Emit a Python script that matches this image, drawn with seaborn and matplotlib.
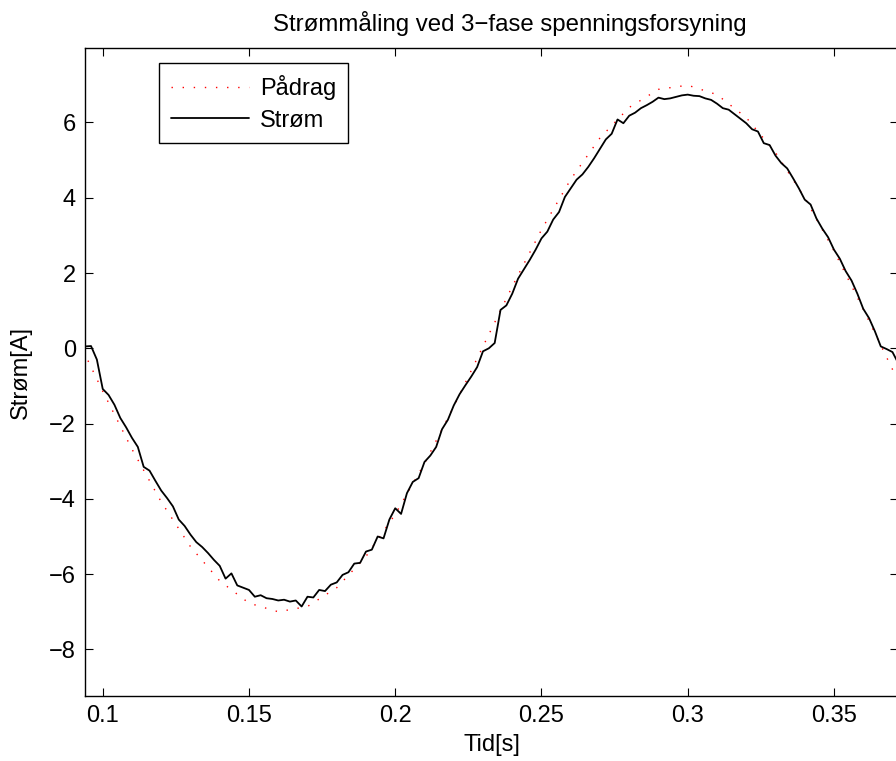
import matplotlib
matplotlib.use('Agg')
import matplotlib.pyplot as plt
import numpy as np
import pandas as pd
import seaborn as sns

# Pådrag (reference), read every 0.01 s
t_ref = [0.09, 0.10, 0.11, 0.12, 0.13, 0.14, 0.15, 0.16, 0.17, 0.18,
         0.19, 0.20, 0.21, 0.22, 0.23, 0.24, 0.25, 0.26, 0.27, 0.28,
         0.29, 0.30, 0.31, 0.32, 0.33, 0.34, 0.35, 0.36, 0.37, 0.38]
padrag = [0.47, -1.14, -2.68, -4.08, -5.27, -6.18, -6.77, -7.00, -6.86, -6.36,
          -5.53, -4.41, -3.06, -1.55, 0.05, 1.64, 3.15, 4.49, 5.59, 6.40,
          6.88, 6.99, 6.74, 6.13, 5.20, 4.00, 2.59, 1.04, -0.56, -2.14]

# Strøm (measured), read every 0.002 s from 0.094
t_start = 0.094
t_step = 0.002
strom = [0.05, 0.06, -0.30, -1.08, -1.24, -1.50, -1.85, -2.10, -2.38, -2.62,
         -3.15, -3.25, -3.52, -3.78, -3.98, -4.20, -4.55, -4.72, -4.95, -5.15,
         -5.28, -5.44, -5.62, -5.78, -6.12, -5.98, -6.30, -6.36, -6.42, -6.60,
         -6.56, -6.64, -6.66, -6.70, -6.68, -6.73, -6.70, -6.86, -6.60, -6.62,
         -6.42, -6.45, -6.28, -6.22, -6.02, -5.95, -5.72, -5.70, -5.40, -5.35,
         -5.00, -5.05, -4.55, -4.25, -4.40, -3.85, -3.55, -3.45, -3.02, -2.85,
         -2.62, -2.15, -1.90, -1.52, -1.22, -0.98, -0.75, -0.50, -0.08, 0.00,
         0.14, 1.02, 1.14, 1.45, 1.85, 2.10, 2.35, 2.62, 2.92, 3.10,
         3.42, 3.62, 4.02, 4.25, 4.48, 4.62, 4.82, 5.05, 5.30, 5.55,
         5.70, 6.08, 5.98, 6.18, 6.26, 6.38, 6.46, 6.55, 6.66, 6.62,
         6.64, 6.68, 6.72, 6.74, 6.71, 6.70, 6.64, 6.60, 6.50, 6.38,
         6.34, 6.22, 6.10, 5.98, 5.82, 5.76, 5.45, 5.40, 5.12, 4.92,
         4.78, 4.52, 4.25, 3.95, 3.82, 3.45, 3.18, 2.95, 2.62, 2.38,
         2.05, 1.80, 1.45, 1.05, 0.80, 0.45, 0.05, -0.02, -0.10, -0.40]
t_meas = t_start + t_step * np.arange(len(strom))

sns.set_style('ticks')
plt.rcParams['font.family'] = ['Liberation Sans', 'DejaVu Sans']
plt.rcParams['text.color'] = 'black'
plt.rcParams['axes.labelcolor'] = 'black'

fig = plt.figure(figsize=(8.96, 7.61), dpi=100)
# right spine lies just past the picture edge (cropped)
ax = fig.add_axes([0.0949, 0.0858, 0.9077, 0.8507])

sns.lineplot(x=t_ref, y=padrag, ax=ax, color='red', linewidth=1.0,
             linestyle=(0, (1, 7)), label='Pådrag', sort=False)
sns.lineplot(x=t_meas, y=strom, ax=ax, color='black', linewidth=1.3,
             label='Strøm', sort=False)

ax.set_xlim(0.09395, 0.372)
ax.set_ylim(-9.23, 7.97)
ax.set_xticks([0.1, 0.15, 0.2, 0.25, 0.3, 0.35])
ax.set_xticklabels(['0.1', '0.15', '0.2', '0.25', '0.3', '0.35'])
ax.set_yticks([-8, -6, -4, -2, 0, 2, 4, 6])

ax.tick_params(direction='in', top=True, right=True, length=5.5, width=0.8,
               labelsize=17, pad=6.5, colors='black')
for s in ax.spines.values():
    s.set_linewidth(1.0)
    s.set_color('black')

ax.set_title('Strømmåling ved 3\u2212fase spenningsforsyning', fontsize=17.3,
             pad=12.5, color='black', x=0.5226)
ax.set_xlabel('Tid[s]', fontsize=17, labelpad=5.5)
ax.set_ylabel('Strøm[A]', fontsize=17, labelpad=12.5)

leg = ax.legend(loc='upper left', bbox_to_anchor=(0.0914, 0.9768),
                borderaxespad=0, fancybox=False, framealpha=1, edgecolor='black',
                fontsize=17, handlelength=3.3, handletextpad=0.45, borderpad=0.5,
                labelspacing=0.4)
leg.get_frame().set_linewidth(1.0)

fig.savefig('out.png', dpi=100)
